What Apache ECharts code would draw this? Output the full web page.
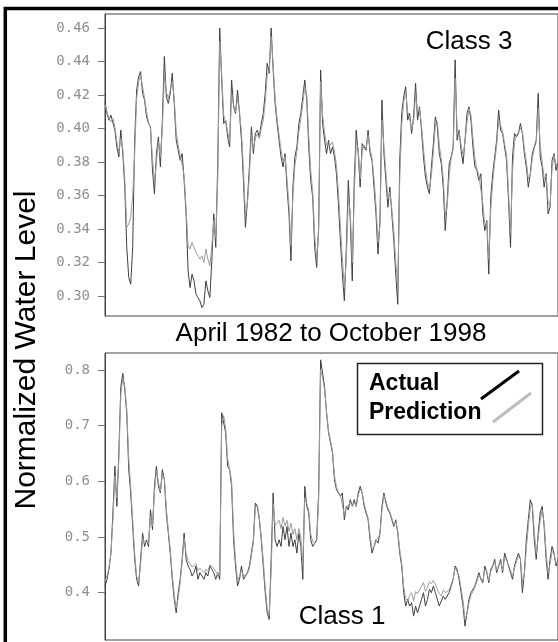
<!DOCTYPE html>
<html>
<head>
<meta charset="utf-8">
<script src="https://cdn.jsdelivr.net/npm/echarts@6/dist/echarts.min.js"></script>
<style>
html,body{margin:0;padding:0;background:#fff;}
#c{width:558px;height:642px;}
</style>
</head>
<body>
<div id="c"></div>
<script>
// Class 3 (top panel)
const topActual = [
.416,.409,.405,.408,.409,.399,.389,.383,.399,.385,
.365,.329,.311,.307,.329,.393,.423,.431,.434,.421,
.417,.407,.403,.401,.375,.361,.385,.395,.377,.405,
.443,.419,.415,.421,.433,.415,.393,.387,.381,.385,
.369,.349,.315,.305,.313,.309,.301,.299,.297,.293,
.295,.309,.303,.299,.321,.349,.329,.379,.460,.429,
.403,.405,.395,.389,.429,.413,.409,.423,.409,.393,
.369,.341,.357,.377,.401,.385,.397,.399,.395,.403,
.409,.421,.439,.433,.460,.435,.415,.403,.393,.383,
.377,.385,.365,.349,.321,.365,.383,.389,.403,.409,
.419,.429,.417,.389,.369,.359,.329,.317,.341,.435,
.403,.393,.385,.393,
.385,.389,.383,.373,.355,.333,.313,.297,.329,.369,
.345,.309,.369,.399,.385,.365,.391,.389,.387,.399,
.385,.381,.365,.349,.325,.345,.417,.385,.369,.353,
.365,.349,.333,.313,.295,.381,.409,.419,.425,.405,
.409,.397,.407,.427,.405,.413,.399,.383,.371,.365,
.361,.377,.391,.407,.401,.385,.379,.365,.339,.357,
.379,.383,.389,.441,.393,.399,.387,.379,.393,.409,
.413,.405,.389,.377,.375,.369,.373,.349,.339,.345,
.313,.359,.373,.383,.393,.411,.399,.397,.389,.381,
.357,.329,.383,.397,.395,.397,.403,.397,.385,.377,
.365,.373,.385,.389,.393,.421,.383,.377,.365,.373,
.349,.353,.381,.385,.375,.380
];
const topPrediction = [
.414,.410,.406,.404,.406,.401,.392,.386,.394,.388,
.370,.341,.343,.347,.360,.385,.418,.428,.432,.425,
.418,.410,.404,.400,.382,.368,.380,.392,.383,.400,
.432,.422,.418,.419,.428,.418,.398,.390,.384,.384,
.372,.352,.330,.328,.332,.329,.326,.325,.322,.324,
.320,.328,.322,.318,.330,.345,.335,.370,.452,.432,
.408,.404,.398,.392,.420,.414,.410,.418,.410,.398,
.375,.348,.355,.372,.396,.388,.394,.397,.394,.400,
.405,.416,.432,.435,.455,.438,.418,.406,.396,.387,
.380,.383,.370,.354,.330,.360,.378,.386,.398,.406,
.415,.425,.420,.395,.375,.362,.336,.322,.338,.428,
.408,.398,.390,.391,
.390,.392,.386,.378,.362,.342,.322,.305,.322,.358,
.350,.320,.360,.392,.388,.370,.386,.390,.388,.396,
.388,.382,.370,.354,.332,.342,.405,.390,.374,.358,
.362,.352,.338,.320,.305,.370,.402,.416,.422,.410,
.406,.400,.404,.420,.410,.412,.402,.388,.376,.368,
.364,.372,.386,.402,.404,.390,.382,.370,.348,.354,
.372,.382,.388,.430,.400,.398,.390,.384,.392,.404,
.412,.408,.394,.382,.376,.372,.372,.355,.342,.344,
.322,.352,.368,.380,.390,.405,.402,.398,.391,.384,
.362,.338,.374,.392,.396,.396,.400,.398,.388,.380,
.370,.372,.382,.388,.392,.412,.390,.380,.370,.372,
.356,.354,.376,.384,.378,.380
];
// Class 1 (bottom panel)
const bottomActual = [
.412,.424,.442,.471,.543,.627,.555,.651,.770,.794,
.764,.723,.621,.579,.519,.460,.424,.412,.460,.507,
.483,.495,.483,.549,.513,.591,.627,.591,.579,.621,
.603,.543,.507,.471,.424,.388,.364,.400,.424,.460,
.507,.460,.448,.442,.430,.436,.448,.424,.436,.430,
.424,.436,.430,.448,.442,.436,.424,.436,.424,.723,
.723,.687,.627,.621,.591,.495,.448,.412,.424,.448,
.424,.424,.436,.448,.471,.495,.561,.555,.531,.495,
.448,.400,.364,.352,.460,.579,.495,.483,.495,.483,
.519,.495,.519,.483,.507,.483,.495,.471,.507,.483,
.424,.591,.555,.543,.495,.483,.483,.495,.579,.818,
.794,.770,.723,.687,
.687,.651,.603,.585,.579,.573,.579,.531,.555,.549,
.567,.555,.567,.555,.579,.591,.579,.555,.543,.531,
.495,.471,.483,.495,.489,.507,.555,.579,.561,.549,
.543,.531,.519,.531,.507,.471,.448,.400,.376,.388,
.376,.382,.358,.376,.364,.376,.388,.400,.376,.388,
.406,.400,.412,.400,.400,.376,.376,.394,.388,.388,
.400,.412,.424,.448,.442,.424,.400,.376,.340,.364,
.388,.400,.400,.412,.424,.436,.424,.418,.448,.436,
.418,.442,.448,.460,.436,.448,.460,.436,.471,.460,
.448,.436,.424,.448,.460,.471,.460,.400,.436,.495,
.531,.567,.555,.495,.460,.507,.543,.555,.519,.460,
.424,.460,.483,.471,.448,.460
];
const bottomPrediction = [
.420,.430,.445,.470,.530,.610,.570,.640,.755,.785,
.770,.730,.640,.590,.530,.470,.430,.418,.452,.498,
.488,.492,.488,.538,.520,.580,.618,.598,.582,.612,
.605,.552,.512,.478,.432,.396,.372,.390,.418,.455,
.498,.470,.458,.452,.446,.448,.452,.440,.444,.440,
.436,.442,.438,.450,.448,.444,.438,.440,.430,.700,
.718,.695,.640,.622,.600,.510,.458,.420,.420,.440,
.430,.428,.434,.444,.466,.490,.552,.558,.535,.500,
.458,.410,.372,.360,.440,.560,.520,.520,.530,.515,
.535,.520,.530,.510,.525,.505,.515,.495,.515,.500,
.450,.570,.560,.548,.505,.492,.488,.492,.565,.800,
.785,.765,.725,.690,
.690,.655,.610,.590,.580,.575,.576,.540,.552,.550,
.562,.556,.562,.556,.575,.586,.580,.560,.546,.534,
.502,.478,.482,.492,.490,.505,.548,.575,.565,.552,
.545,.534,.522,.528,.510,.478,.452,.410,.390,.385,
.395,.400,.385,.402,.398,.405,.412,.418,.402,.410,
.420,.416,.422,.415,.414,.398,.394,.405,.400,.398,
.405,.415,.425,.445,.444,.430,.408,.385,.352,.362,
.382,.396,.402,.410,.420,.432,.426,.420,.442,.438,
.422,.438,.446,.456,.440,.446,.456,.440,.462,.458,
.450,.440,.430,.444,.456,.466,.462,.418,.432,.480,
.520,.552,.560,.510,.470,.498,.530,.548,.525,.472,
.435,.452,.474,.470,.452,.458
];
const topTicks = [0.30,0.32,0.34,0.36,0.38,0.40,0.42,0.44,0.46];
const bottomTicks = [0.4,0.5,0.6,0.7,0.8];
const timeIndex = topActual.map((_, i) => i);

const chart = echarts.init(document.getElementById('c'), null, {renderer:'canvas', width:558, height:642});
const tickFont = {color:'#909090', fontFamily:'DejaVu Sans Mono', fontSize:14, margin:15};
const yCommon = {
  type:'value', splitLine:{show:false},
  axisLine:{show:true, lineStyle:{color:'#444', width:1}},
  axisTick:{show:true, length:7, lineStyle:{color:'#777'}}
};
const xCommon = {
  type:'category', data:timeIndex, boundaryGap:false,
  axisLine:{show:false}, axisTick:{show:false}, axisLabel:{show:false}, splitLine:{show:false}
};
const lineS = (name, data, idx, color, z) => ({
  name, type:'line', data, xAxisIndex:idx, yAxisIndex:idx, symbol:'none',
  lineStyle:{color, width:1}, itemStyle:{color}, z, animation:false
});
chart.setOption({
  backgroundColor:'#fff',
  animation:false,
  grid:[
    {left:105, top:14, width:458, height:302, show:true, borderColor:'#444', borderWidth:1},
    {left:105, top:353, width:458, height:287, show:true, borderColor:'#444', borderWidth:1}
  ],
  xAxis:[Object.assign({gridIndex:0}, xCommon), Object.assign({gridIndex:1}, xCommon)],
  yAxis:[
    Object.assign({gridIndex:0, min:0.288, max:0.4684}, yCommon, {
      axisTick:Object.assign({}, yCommon.axisTick, {customValues:topTicks}),
      axisLabel:Object.assign({}, tickFont, {customValues:topTicks, formatter:v => v.toFixed(2)})
    }),
    Object.assign({gridIndex:1, min:0.3151, max:0.8303}, yCommon, {
      axisTick:Object.assign({}, yCommon.axisTick, {customValues:bottomTicks}),
      axisLabel:Object.assign({}, tickFont, {customValues:bottomTicks, formatter:v => v.toFixed(1)})
    })
  ],
  series:[
    lineS('Actual', topActual, 0, '#404040', 2),
    lineS('Prediction', topPrediction, 0, '#9c9c9c', 3),
    lineS('Actual', bottomActual, 1, '#404040', 2),
    lineS('Prediction', bottomPrediction, 1, '#9c9c9c', 3)
  ],
  graphic:[
    {type:'rect', z:100, shape:{x:5.3, y:8.5, width:620, height:700}, style:{fill:'none', stroke:'#000', lineWidth:3.5}},
    {type:'text', z:50, x:27, y:350, rotation:Math.PI/2, style:{text:'Normalized Water Level', font:'30px "Liberation Sans", Arial, sans-serif', fill:'#000', textAlign:'center', textVerticalAlign:'middle'}},
    {type:'text', z:50, x:331, y:334, style:{text:'April 1982 to October 1998', font:'26px "Liberation Sans", Arial, sans-serif', fill:'#000', textAlign:'center', textVerticalAlign:'middle'}},
    {type:'text', z:50, x:469, y:42, style:{text:'Class 3', font:'26px "Liberation Sans", Arial, sans-serif', fill:'#000', textAlign:'center', textVerticalAlign:'middle'}},
    {type:'text', z:50, x:342, y:617, style:{text:'Class 1', font:'26px "Liberation Sans", Arial, sans-serif', fill:'#000', textAlign:'center', textVerticalAlign:'middle'}},
    {type:'rect', z:60, shape:{x:357.5, y:363.5, width:185, height:71}, style:{fill:'#fff', stroke:'#222', lineWidth:1.5}},
    {type:'text', z:61, x:369, y:384, style:{text:'Actual', font:'bold 23px "Liberation Sans", Arial, sans-serif', fill:'#000', textAlign:'left', textVerticalAlign:'middle'}},
    {type:'text', z:61, x:369, y:413, style:{text:'Prediction', font:'bold 23px "Liberation Sans", Arial, sans-serif', fill:'#000', textAlign:'left', textVerticalAlign:'middle'}},
    {type:'line', z:61, shape:{x1:481, y1:399, x2:519, y2:371}, style:{stroke:'#000', lineWidth:3}},
    {type:'line', z:61, shape:{x1:493, y1:422, x2:531, y2:393}, style:{stroke:'#bdbdbd', lineWidth:3}}
  ]
});
</script>
</body>
</html>
